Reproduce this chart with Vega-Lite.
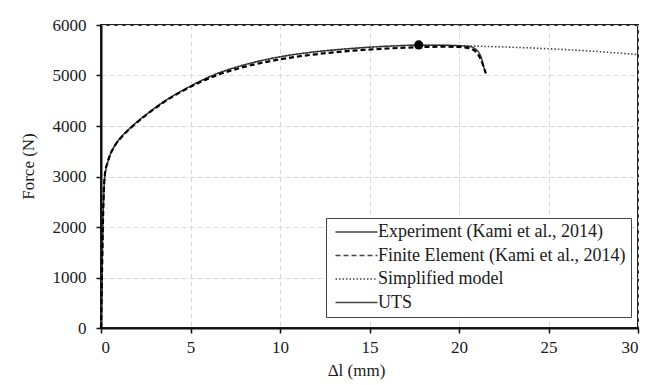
{
  "$schema": "https://vega.github.io/schema/vega-lite/v6.json",
  "width": 537,
  "height": 303,
  "autosize": "none",
  "padding": {"left": 101, "top": 25, "right": 10, "bottom": 57},
  "background": "white",
  "config": {
    "font": "Liberation Serif",
    "view": {"stroke": "#222", "strokeWidth": 2},
    "axis": {
      "domainColor": "#111",
      "domainWidth": 2,
      "tickColor": "#111",
      "tickWidth": 1.5,
      "tickSize": 5,
      "gridColor": "#d9d9d9",
      "gridDash": [5, 3],
      "gridWidth": 1,
      "labelFont": "Liberation Serif",
      "labelFontSize": 17,
      "labelColor": "#1a1a1a",
      "titleFont": "Liberation Serif",
      "titleFontSize": 17,
      "titleFontWeight": "normal",
      "titleColor": "#1a1a1a"
    },
    "legend": {
      "title": null,
      "orient": "none",
      "legendX": 225,
      "legendY": 193,
      "padding": 5,
      "rowPadding": 5.5,
      "fillColor": "white",
      "strokeColor": "#444444",
      "cornerRadius": 0,
      "labelFont": "Liberation Serif",
      "labelFontSize": 18,
      "labelColor": "#1a1a1a",
      "labelOffset": 29,
      "labelLimit": 400,
      "symbolSize": 100,
      "symbolStrokeWidth": 1.5
    }
  },
  "data": {
    "values": [
      {"series": "Simplified model", "x": 0, "y": 0},
      {"series": "Simplified model", "x": 0.05, "y": 900},
      {"series": "Simplified model", "x": 0.1, "y": 1900},
      {"series": "Simplified model", "x": 0.15, "y": 2600},
      {"series": "Simplified model", "x": 0.2, "y": 2950},
      {"series": "Simplified model", "x": 0.25, "y": 3100},
      {"series": "Simplified model", "x": 0.35, "y": 3250},
      {"series": "Simplified model", "x": 0.5, "y": 3420},
      {"series": "Simplified model", "x": 0.8, "y": 3630},
      {"series": "Simplified model", "x": 1.2, "y": 3810},
      {"series": "Simplified model", "x": 1.75, "y": 4000},
      {"series": "Simplified model", "x": 2.5, "y": 4220},
      {"series": "Simplified model", "x": 3.5, "y": 4480},
      {"series": "Simplified model", "x": 5, "y": 4790},
      {"series": "Simplified model", "x": 6.5, "y": 5040},
      {"series": "Simplified model", "x": 8, "y": 5210},
      {"series": "Simplified model", "x": 10, "y": 5370},
      {"series": "Simplified model", "x": 12, "y": 5470},
      {"series": "Simplified model", "x": 14, "y": 5535},
      {"series": "Simplified model", "x": 16, "y": 5580},
      {"series": "Simplified model", "x": 17.7, "y": 5600},
      {"series": "Simplified model", "x": 19, "y": 5597},
      {"series": "Simplified model", "x": 20, "y": 5590},
      {"series": "Simplified model", "x": 21, "y": 5580},
      {"series": "Simplified model", "x": 22.5, "y": 5565},
      {"series": "Simplified model", "x": 25, "y": 5530},
      {"series": "Simplified model", "x": 27.5, "y": 5480},
      {"series": "Simplified model", "x": 30, "y": 5415},
      {"series": "Experiment (Kami et al., 2014)", "x": 0, "y": 0},
      {"series": "Experiment (Kami et al., 2014)", "x": 0.05, "y": 900},
      {"series": "Experiment (Kami et al., 2014)", "x": 0.1, "y": 1900},
      {"series": "Experiment (Kami et al., 2014)", "x": 0.15, "y": 2600},
      {"series": "Experiment (Kami et al., 2014)", "x": 0.2, "y": 2950},
      {"series": "Experiment (Kami et al., 2014)", "x": 0.25, "y": 3100},
      {"series": "Experiment (Kami et al., 2014)", "x": 0.35, "y": 3250},
      {"series": "Experiment (Kami et al., 2014)", "x": 0.5, "y": 3420},
      {"series": "Experiment (Kami et al., 2014)", "x": 0.8, "y": 3630},
      {"series": "Experiment (Kami et al., 2014)", "x": 1.2, "y": 3810},
      {"series": "Experiment (Kami et al., 2014)", "x": 1.75, "y": 4000},
      {"series": "Experiment (Kami et al., 2014)", "x": 2.5, "y": 4220},
      {"series": "Experiment (Kami et al., 2014)", "x": 3.5, "y": 4480},
      {"series": "Experiment (Kami et al., 2014)", "x": 5, "y": 4790},
      {"series": "Experiment (Kami et al., 2014)", "x": 6.5, "y": 5040},
      {"series": "Experiment (Kami et al., 2014)", "x": 8, "y": 5210},
      {"series": "Experiment (Kami et al., 2014)", "x": 10, "y": 5370},
      {"series": "Experiment (Kami et al., 2014)", "x": 12, "y": 5470},
      {"series": "Experiment (Kami et al., 2014)", "x": 14, "y": 5535},
      {"series": "Experiment (Kami et al., 2014)", "x": 16, "y": 5580},
      {"series": "Experiment (Kami et al., 2014)", "x": 17.7, "y": 5600},
      {"series": "Experiment (Kami et al., 2014)", "x": 19, "y": 5600},
      {"series": "Experiment (Kami et al., 2014)", "x": 20, "y": 5590},
      {"series": "Experiment (Kami et al., 2014)", "x": 20.6, "y": 5575},
      {"series": "Experiment (Kami et al., 2014)", "x": 20.9, "y": 5530},
      {"series": "Experiment (Kami et al., 2014)", "x": 21.1, "y": 5460},
      {"series": "Experiment (Kami et al., 2014)", "x": 21.25, "y": 5350},
      {"series": "Experiment (Kami et al., 2014)", "x": 21.35, "y": 5220},
      {"series": "Experiment (Kami et al., 2014)", "x": 21.45, "y": 5080},
      {"series": "Finite Element (Kami et al., 2014)", "x": 0, "y": 0},
      {"series": "Finite Element (Kami et al., 2014)", "x": 0.05, "y": 950},
      {"series": "Finite Element (Kami et al., 2014)", "x": 0.1, "y": 1950},
      {"series": "Finite Element (Kami et al., 2014)", "x": 0.15, "y": 2650},
      {"series": "Finite Element (Kami et al., 2014)", "x": 0.2, "y": 2980},
      {"series": "Finite Element (Kami et al., 2014)", "x": 0.25, "y": 3120},
      {"series": "Finite Element (Kami et al., 2014)", "x": 0.35, "y": 3260},
      {"series": "Finite Element (Kami et al., 2014)", "x": 0.5, "y": 3420},
      {"series": "Finite Element (Kami et al., 2014)", "x": 0.8, "y": 3625},
      {"series": "Finite Element (Kami et al., 2014)", "x": 1.2, "y": 3800},
      {"series": "Finite Element (Kami et al., 2014)", "x": 1.75, "y": 3990},
      {"series": "Finite Element (Kami et al., 2014)", "x": 2.5, "y": 4210},
      {"series": "Finite Element (Kami et al., 2014)", "x": 3.5, "y": 4470},
      {"series": "Finite Element (Kami et al., 2014)", "x": 5, "y": 4775},
      {"series": "Finite Element (Kami et al., 2014)", "x": 6.5, "y": 5010},
      {"series": "Finite Element (Kami et al., 2014)", "x": 8, "y": 5170},
      {"series": "Finite Element (Kami et al., 2014)", "x": 10, "y": 5320},
      {"series": "Finite Element (Kami et al., 2014)", "x": 12, "y": 5420},
      {"series": "Finite Element (Kami et al., 2014)", "x": 14, "y": 5490},
      {"series": "Finite Element (Kami et al., 2014)", "x": 16, "y": 5535},
      {"series": "Finite Element (Kami et al., 2014)", "x": 17.7, "y": 5560},
      {"series": "Finite Element (Kami et al., 2014)", "x": 19, "y": 5570},
      {"series": "Finite Element (Kami et al., 2014)", "x": 20, "y": 5565},
      {"series": "Finite Element (Kami et al., 2014)", "x": 20.5, "y": 5545},
      {"series": "Finite Element (Kami et al., 2014)", "x": 20.8, "y": 5510},
      {"series": "Finite Element (Kami et al., 2014)", "x": 21.0, "y": 5450},
      {"series": "Finite Element (Kami et al., 2014)", "x": 21.2, "y": 5330},
      {"series": "Finite Element (Kami et al., 2014)", "x": 21.35, "y": 5200},
      {"series": "Finite Element (Kami et al., 2014)", "x": 21.5, "y": 5040},
      {"series": "UTS", "x": 17.75, "y": 5605}
    ]
  },
  "encoding": {
    "x": {
      "field": "x",
      "type": "quantitative",
      "scale": {"domain": [0, 30], "nice": false, "zero": false},
      "axis": {
        "values": [0, 5, 10, 15, 20, 25, 30],
        "format": "d",
        "title": "Δl (mm)",
        "labelPadding": 6,
        "titleX": 255,
        "titleY": 42,
        "titleAlign": "center",
        "titleBaseline": "middle"
      }
    },
    "y": {
      "field": "y",
      "type": "quantitative",
      "scale": {"domain": [0, 6000], "nice": false},
      "axis": {
        "values": [0, 1000, 2000, 3000, 4000, 5000, 6000],
        "format": "d",
        "title": "Force (N)",
        "labelPadding": 10,
        "titleX": -73,
        "titleY": 141,
        "titleAngle": -90,
        "titleAlign": "center",
        "titleBaseline": "middle"
      }
    }
  },
  "layer": [
    {
      "transform": [{"filter": "datum.series === 'Simplified model'"}],
      "mark": {"type": "line", "interpolate": "monotone", "color": "#444444", "strokeWidth": 1.6},
      "encoding": {
        "strokeDash": {
          "field": "series",
          "type": "nominal",
          "scale": {
            "domain": ["Experiment (Kami et al., 2014)", "Finite Element (Kami et al., 2014)", "Simplified model", "UTS"],
            "range": [[1, 0], [5, 3], [1.5, 2], [1, 0]]
          },
          "legend": {"symbolType": "M-0.9,0H7.5"}
        }
      }
    },
    {
      "transform": [{"filter": "datum.series === 'Experiment (Kami et al., 2014)'"}],
      "mark": {"type": "line", "interpolate": "monotone", "color": "#333333", "strokeWidth": 1.4},
      "encoding": {
        "strokeDash": {
          "field": "series",
          "type": "nominal",
          "legend": {"symbolType": "M-0.9,0H7.5"}
        }
      }
    },
    {
      "transform": [{"filter": "datum.series === 'Finite Element (Kami et al., 2014)'"}],
      "mark": {"type": "line", "interpolate": "monotone", "color": "#000000", "strokeWidth": 2.2},
      "encoding": {
        "strokeDash": {
          "field": "series",
          "type": "nominal",
          "legend": {"symbolType": "M-0.9,0H7.5"}
        }
      }
    },
    {
      "transform": [{"filter": "datum.series === 'UTS'"}],
      "mark": {"type": "point", "filled": true, "color": "black", "size": 85, "opacity": 1}
    }
  ]
}
